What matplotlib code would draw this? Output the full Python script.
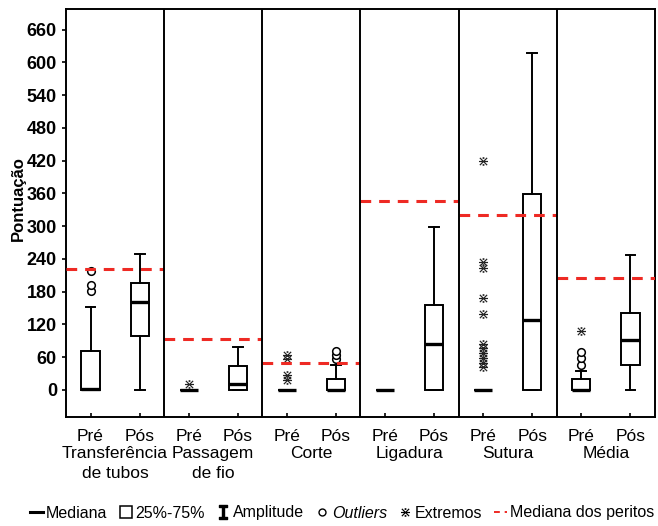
import matplotlib
matplotlib.use("Agg")
import matplotlib.pyplot as plt
from matplotlib.lines import Line2D
import numpy as np

plt.rcParams['font.family'] = ['Liberation Sans', 'DejaVu Sans']

# data (pontuação)
categorias = ["Transferência\nde tubos", "Passagem\nde fio", "Corte", "Ligadura", "Sutura", "Média"]
momentos = ["Pré", "Pós"]

q1 = [0, 98, 0, 0, 0, 0, 0, 0, 0, 0, 0, 45]
mediana = [1, 161, 0, 10, 0, 0, 0, 84, 0, 128, 0, 92]
q3 = [71, 196, 0, 43, 0, 20, 0, 155, 0, 359, 20, 141]
amp_min = [0, 0, 0, 0, 0, 0, 0, 0, 0, 0, 0, 0]
amp_max = [152, 249, 0, 79, 0, 46, 0, 298, 0, 618, 35, 247]

outliers = [[181, 192, 217], [], [], [], [], [57, 64, 71], [], [], [], [], [46, 58, 70], []]
extremos = [[], [], [10], [], [18, 28, 56, 64], [], [], [],
            [42, 50, 59, 68, 77, 85, 140, 168, 224, 235, 419], [], [108], []]

mediana_peritos = [222, 93, 50, 346, 321, 205]

fig = plt.figure(figsize=(6.58, 5.26), dpi=100)
ax = fig.add_axes([0.1003, 0.2078, 0.8951, 0.7742])

pos = np.arange(12)
stats = []
for i in range(12):
    stats.append(dict(q1=q1[i], med=mediana[i], q3=q3[i],
                      whislo=amp_min[i], whishi=amp_max[i], fliers=[]))

ax.bxp(stats, positions=pos, widths=0.37, showfliers=False, patch_artist=True,
       boxprops=dict(facecolor='white', edgecolor='black', linewidth=1.4),
       medianprops=dict(color='black', linewidth=2.4),
       whiskerprops=dict(color='black', linewidth=1.4),
       capprops=dict(color='black', linewidth=1.4),
       capwidths=0.2)

for i in range(12):
    if outliers[i]:
        ax.plot([pos[i]] * len(outliers[i]), outliers[i], 'o', ms=5.5,
                mfc='white', mec='black', mew=1.1, zorder=3)
    if extremos[i]:
        ax.plot([pos[i]] * len(extremos[i]), extremos[i], ls='none',
                marker=r'$\divideontimes$', ms=6.5, mew=0, color='#222222', zorder=3)

# mediana dos peritos, one line per panel
for k, m in enumerate(mediana_peritos):
    ax.plot([2 * k - 0.5, 2 * k + 1.5], [m, m], color='#ee2a24', lw=2.2,
            dashes=(3.5, 2.6), zorder=4)

# panel separators
for k in range(1, 6):
    ax.axvline(2 * k - 0.5, color='black', lw=1.4, zorder=5)

ax.set_xlim(-0.5, 11.5)
ax.set_ylim(-49, 697)
ax.set_yticks(np.arange(0, 661, 60))
ax.set_xticks(pos)
ax.set_xticklabels(momentos * 6, fontsize=12.5)
ax.tick_params(axis='x', direction='in', length=3, width=1.2, pad=9)
ax.tick_params(axis='y', direction='out', length=3, width=1.2, labelsize=13)
for lab in ax.get_yticklabels():
    lab.set_fontweight('bold')
for sp in ax.spines.values():
    sp.set_linewidth(1.4)

for k, nome in enumerate(categorias):
    ax.text(2 * k + 0.5, -0.072, nome, transform=ax.get_xaxis_transform(),
            ha='center', va='top', fontsize=12.5, linespacing=1.4)

fig.text(18 / 658, 1 - 199 / 526, "Pontuação", rotation=90, ha='center',
         va='center', fontsize=12, fontweight='bold')

# legend row
handles = [
    Line2D([], [], color='black', lw=2.2),
    Line2D([], [], ls='none', marker='s', ms=9, mfc='white', mec='black', mew=1.1),
    Line2D([], [], ls='none', marker=r'$\mathtt{I}$', ms=10, color='black'),
    Line2D([], [], ls='none', marker='o', ms=5, mfc='white', mec='black', mew=1),
    Line2D([], [], ls='none', marker=r'$\divideontimes$', ms=6.5, mew=0, color='black'),
    Line2D([], [], color='#ee2a24', lw=1.4, dashes=(3, 2.5)),
]
labels = ["Mediana", "25%-75%", "Amplitude", "Outliers", "Extremos", "Mediana dos peritos"]
leg = fig.legend(handles, labels, loc='center', bbox_to_anchor=(0.52, 1 - 513 / 526),
                 ncol=6, frameon=False, fontsize=11.5, handlelength=0.8,
                 handletextpad=0.2, columnspacing=0.75, borderpad=0.1)
for t in leg.get_texts():
    if t.get_text() == "Outliers":
        t.set_style('italic')

fig.savefig("out.png", dpi=100)
